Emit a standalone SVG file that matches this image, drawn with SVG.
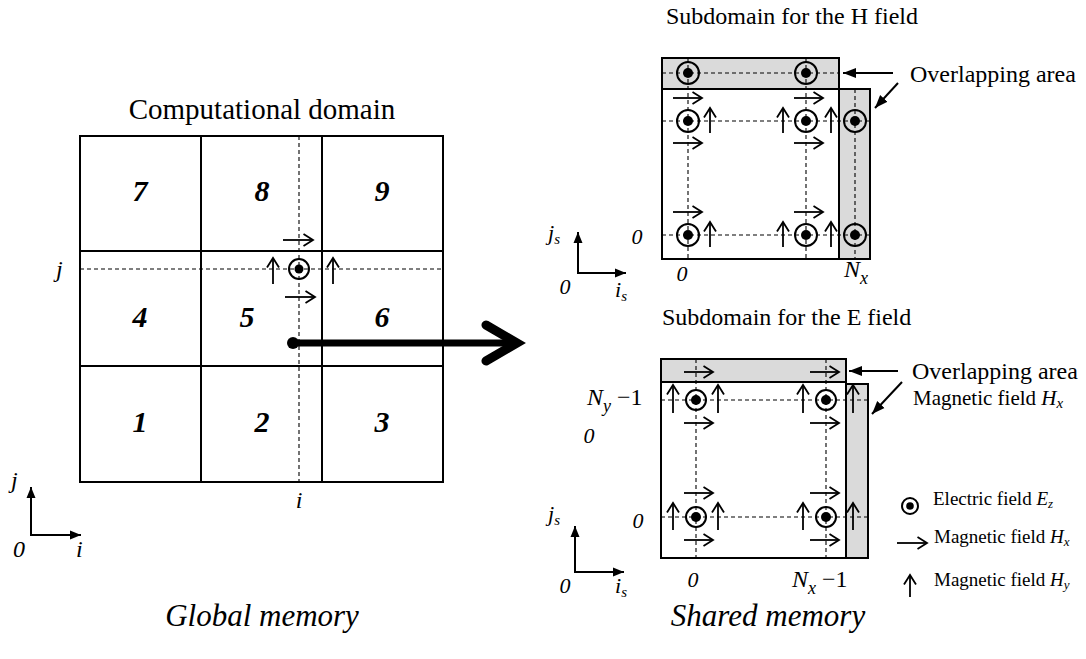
<svg xmlns="http://www.w3.org/2000/svg" width="1086" height="659" viewBox="0 0 1086 659">
<defs>
<style>
.t{font-family:"Liberation Serif","Times New Roman",serif;fill:#000}
.it{font-style:italic}
.num{font-family:"Liberation Serif","Times New Roman",serif;font-style:italic;font-weight:bold;font-size:30px;text-anchor:middle}
.box{stroke:#000;stroke-width:2;fill:none}
.gray{stroke:#000;stroke-width:2;fill:#dadada}
.dash{stroke:#000;stroke-width:1.1;stroke-dasharray:4 3;fill:none}
.fa{stroke:#000;stroke-width:1.8;fill:none;marker-end:url(#open)}
.ax{stroke:#000;stroke-width:2;fill:none;marker-end:url(#solid)}
.ov{stroke:#000;stroke-width:2;fill:none;marker-end:url(#solidL)}
.ring{stroke:#000;stroke-width:2;fill:none}
</style>
<marker id="open" markerUnits="userSpaceOnUse" markerWidth="13" markerHeight="14" refX="11" refY="7" orient="auto"><path d="M1.5,1 L11,7 L1.5,13" fill="none" stroke="#000" stroke-width="1.8"/></marker>
<marker id="solid" markerUnits="userSpaceOnUse" markerWidth="12" markerHeight="10" refX="11" refY="5" orient="auto"><path d="M0,0.5 L11,5 L0,9.5 z" fill="#000"/></marker>
<marker id="solidL" markerUnits="userSpaceOnUse" markerWidth="14" markerHeight="12" refX="13" refY="6" orient="auto"><path d="M0,1 L13,6 L0,11 z" fill="#000"/></marker>
</defs>
<rect width="1086" height="659" fill="#fff"/>

<g id="global-domain">
<text class="t" x="262" y="119" font-size="29" text-anchor="middle">Computational domain</text>
<rect class="box" x="80" y="136" width="363" height="346"/>
<line class="box" x1="201" y1="136" x2="201" y2="482"/>
<line class="box" x1="322" y1="136" x2="322" y2="482"/>
<line class="box" x1="80" y1="251" x2="443" y2="251"/>
<line class="box" x1="80" y1="366" x2="443" y2="366"/>
<line class="dash" x1="80" y1="269" x2="443" y2="269"/>
<line class="dash" x1="299" y1="136" x2="299" y2="482"/>
<text class="num" x="140" y="201">7</text>
<text class="num" x="262" y="201">8</text>
<text class="num" x="382" y="201">9</text>
<text class="num" x="140" y="327">4</text>
<text class="num" x="247" y="327">5</text>
<text class="num" x="382" y="327">6</text>
<text class="num" x="140" y="432">1</text>
<text class="num" x="262" y="432">2</text>
<text class="num" x="382" y="432">3</text>
<circle class="ring" cx="299" cy="269" r="10"/>
<circle cx="299" cy="269" r="4.5" fill="#000"/>
<line class="fa" x1="283" y1="240" x2="313" y2="240"/>
<line class="fa" x1="285" y1="297" x2="315" y2="297"/>
<line class="fa" x1="273" y1="284" x2="273" y2="258"/>
<line class="fa" x1="333" y1="284" x2="333" y2="258"/>
<text class="t it" x="56" y="277" font-size="24">j</text>
<text class="t it" x="299" y="508" font-size="24" text-anchor="middle">i</text>
</g>

<g id="global-axes">
<line class="ax" x1="31" y1="535" x2="31" y2="487"/>
<line class="ax" x1="30" y1="535" x2="81" y2="535"/>
<text class="t it" x="11" y="488" font-size="24">j</text>
<text class="t it" x="13" y="557" font-size="24">0</text>
<text class="t it" x="76" y="557" font-size="24">i</text>
<text class="t it" x="262" y="626" font-size="31" text-anchor="middle">Global memory</text>
</g>

<g id="connectors">
<circle cx="293" cy="343" r="6" fill="#000"/>
<line x1="293" y1="343" x2="514" y2="343" stroke="#000" stroke-width="7"/>
<polyline points="486,325 517,343 486,361" fill="none" stroke="#000" stroke-width="9" stroke-linecap="round" stroke-linejoin="miter"/>
</g>

<g id="subdomain-h">
<text class="t" x="666" y="24" font-size="24">Subdomain for the H field</text>
<rect class="gray" x="662" y="58" width="177" height="31"/>
<rect class="gray" x="839" y="89" width="31" height="170"/>
<rect class="box" x="662" y="89" width="177" height="170" fill="#fff"/>
<line class="dash" x1="662" y1="73" x2="839" y2="73"/>
<line class="dash" x1="662" y1="121" x2="870" y2="121"/>
<line class="dash" x1="662" y1="235" x2="870" y2="235"/>
<line class="dash" x1="688" y1="58" x2="688" y2="259"/>
<line class="dash" x1="806" y1="58" x2="806" y2="259"/>
<line class="dash" x1="855" y1="89" x2="855" y2="259"/>
<g>
<circle class="ring" cx="688" cy="73" r="11"/><circle cx="688" cy="73" r="5"/>
<circle class="ring" cx="806" cy="73" r="11"/><circle cx="806" cy="73" r="5"/>
<circle class="ring" cx="688" cy="121" r="11"/><circle cx="688" cy="121" r="5"/>
<circle class="ring" cx="806" cy="121" r="11"/><circle cx="806" cy="121" r="5"/>
<circle class="ring" cx="855" cy="121" r="11"/><circle cx="855" cy="121" r="5"/>
<circle class="ring" cx="688" cy="235" r="11"/><circle cx="688" cy="235" r="5"/>
<circle class="ring" cx="806" cy="235" r="11"/><circle cx="806" cy="235" r="5"/>
<circle class="ring" cx="855" cy="235" r="11"/><circle cx="855" cy="235" r="5"/>
</g>
<line class="fa" x1="673" y1="98" x2="702" y2="98"/>
<line class="fa" x1="794" y1="98" x2="823" y2="98"/>
<line class="fa" x1="673" y1="143" x2="702" y2="143"/>
<line class="fa" x1="794" y1="143" x2="823" y2="143"/>
<line class="fa" x1="673" y1="212" x2="702" y2="212"/>
<line class="fa" x1="794" y1="212" x2="823" y2="212"/>
<line class="fa" x1="710" y1="133" x2="710" y2="108"/>
<line class="fa" x1="783" y1="133" x2="783" y2="108"/>
<line class="fa" x1="831" y1="133" x2="831" y2="108"/>
<line class="fa" x1="710" y1="247" x2="710" y2="222"/>
<line class="fa" x1="783" y1="247" x2="783" y2="222"/>
<line class="fa" x1="831" y1="247" x2="831" y2="222"/>
<line class="ov" x1="893" y1="73" x2="843" y2="73"/>
<line class="ov" x1="898" y1="83" x2="875" y2="108"/>
<text class="t" x="910" y="82" font-size="24">Overlapping area</text>
<text class="t it" x="637" y="244" font-size="22" text-anchor="middle">0</text>
<text class="t it" x="682" y="281" font-size="22" text-anchor="middle">0</text>
<text class="t it" x="844" y="277" font-size="24">N<tspan font-size="18" dy="7">x</tspan></text>
<line class="ax" x1="578" y1="273" x2="578" y2="232"/>
<line class="ax" x1="577" y1="273" x2="626" y2="273"/>
<text class="t it" x="548" y="240" font-size="22">j<tspan font-size="15" dy="4">s</tspan></text>
<text class="t it" x="565" y="294" font-size="22" text-anchor="middle">0</text>
<text class="t it" x="615" y="297" font-size="22">i<tspan font-size="15" dy="4">s</tspan></text>
</g>

<g id="subdomain-e">
<text class="t" x="662" y="325" font-size="24">Subdomain for the E field</text>
<rect class="gray" x="661" y="359" width="185" height="23"/>
<rect class="gray" x="846" y="384" width="22" height="174"/>
<rect class="box" x="661" y="382" width="185" height="176" fill="#fff"/>
<line class="dash" x1="661" y1="400" x2="868" y2="400"/>
<line class="dash" x1="661" y1="517" x2="868" y2="517"/>
<line class="dash" x1="696" y1="359" x2="696" y2="558"/>
<line class="dash" x1="826" y1="359" x2="826" y2="558"/>
<g>
<circle class="ring" cx="696" cy="400" r="10"/><circle cx="696" cy="400" r="5"/>
<circle class="ring" cx="826" cy="400" r="10"/><circle cx="826" cy="400" r="5"/>
<circle class="ring" cx="696" cy="517" r="10"/><circle cx="696" cy="517" r="5"/>
<circle class="ring" cx="826" cy="517" r="10"/><circle cx="826" cy="517" r="5"/>
</g>
<line class="fa" x1="684" y1="372" x2="713" y2="372"/>
<line class="fa" x1="810" y1="372" x2="839" y2="372"/>
<line class="fa" x1="684" y1="423" x2="713" y2="423"/>
<line class="fa" x1="810" y1="423" x2="839" y2="423"/>
<line class="fa" x1="684" y1="493" x2="713" y2="493"/>
<line class="fa" x1="810" y1="493" x2="839" y2="493"/>
<line class="fa" x1="684" y1="540" x2="713" y2="540"/>
<line class="fa" x1="810" y1="540" x2="839" y2="540"/>
<line class="fa" x1="673" y1="413" x2="673" y2="385"/>
<line class="fa" x1="718" y1="413" x2="718" y2="385"/>
<line class="fa" x1="803" y1="413" x2="803" y2="385"/>
<line class="fa" x1="853" y1="413" x2="853" y2="385"/>
<line class="fa" x1="673" y1="530" x2="673" y2="503"/>
<line class="fa" x1="718" y1="530" x2="718" y2="503"/>
<line class="fa" x1="803" y1="530" x2="803" y2="503"/>
<line class="fa" x1="853" y1="530" x2="853" y2="503"/>
<line class="ov" x1="898" y1="371" x2="849" y2="371"/>
<line class="ov" x1="902" y1="382" x2="872" y2="414"/>
<text class="t" x="912" y="379" font-size="24">Overlapping area</text>
<text class="t" x="913" y="405" font-size="21">Magnetic field <tspan class="it">H</tspan><tspan class="it" font-size="15" dy="3">x</tspan></text>
<text class="t it" x="587" y="405" font-size="24">N<tspan font-size="18" dy="7">y</tspan><tspan font-style="normal" dy="-7"> −1</tspan></text>
<text class="t it" x="589" y="443" font-size="22" text-anchor="middle">0</text>
<text class="t it" x="638" y="528" font-size="22" text-anchor="middle">0</text>
<text class="t it" x="693" y="587" font-size="22" text-anchor="middle">0</text>
<text class="t it" x="792" y="587" font-size="24">N<tspan font-size="18" dy="7">x</tspan><tspan font-style="normal" dy="-7"> −1</tspan></text>
<line class="ax" x1="575" y1="572" x2="575" y2="526"/>
<line class="ax" x1="574" y1="572" x2="624" y2="572"/>
<text class="t it" x="548" y="521" font-size="22">j<tspan font-size="15" dy="4">s</tspan></text>
<text class="t it" x="565" y="593" font-size="22" text-anchor="middle">0</text>
<text class="t it" x="615" y="593" font-size="22">i<tspan font-size="15" dy="4">s</tspan></text>
<text class="t it" x="768" y="626" font-size="31" text-anchor="middle">Shared memory</text>
</g>

<g id="legend">
<circle cx="910" cy="506" r="8" fill="none" stroke="#000" stroke-width="2"/>
<circle cx="910" cy="506" r="3.8" fill="#000"/>
<text class="t" x="933" y="505" font-size="19">Electric field <tspan class="it">E</tspan><tspan class="it" font-size="13" dy="3">z</tspan></text>
<line class="fa" x1="897" y1="543" x2="927" y2="543"/>
<text class="t" x="934" y="543" font-size="19">Magnetic field <tspan class="it">H</tspan><tspan class="it" font-size="13" dy="3">x</tspan></text>
<line class="fa" x1="910" y1="597" x2="910" y2="575"/>
<text class="t" x="934" y="586" font-size="19">Magnetic field <tspan class="it">H</tspan><tspan class="it" font-size="13" dy="3">y</tspan></text>
</g>
</svg>
